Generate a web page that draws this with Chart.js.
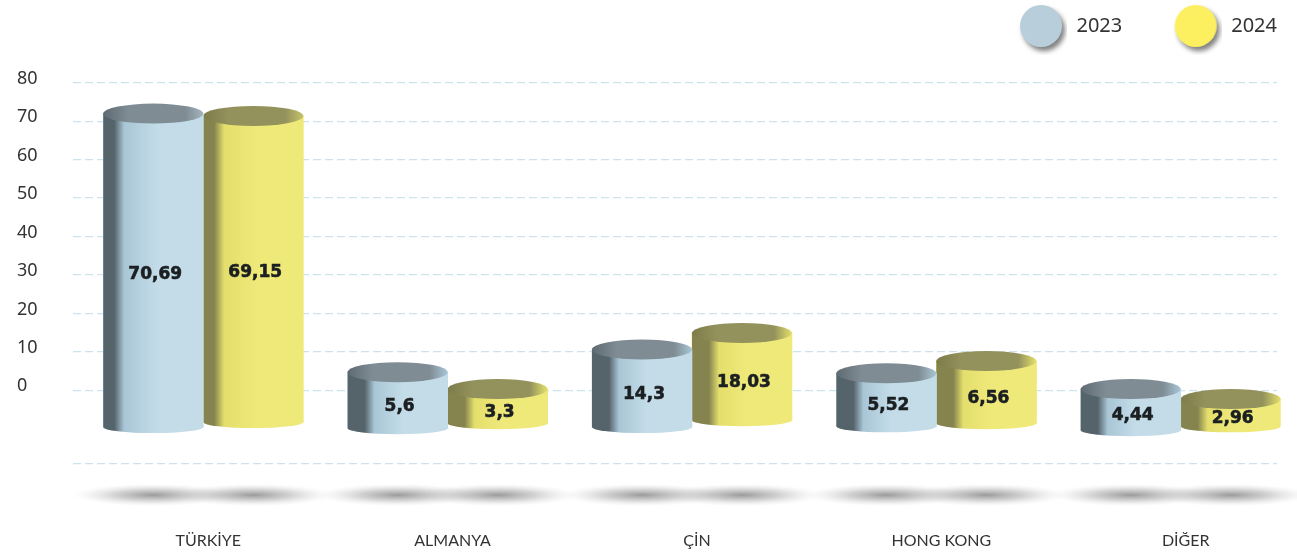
<!DOCTYPE html>
<html>
<head>
<meta charset="utf-8">
<title>chart</title>
<script src="https://cdn.jsdelivr.net/npm/chart.js@4/dist/chart.umd.min.js"></script>
<style>
  html, body { margin: 0; padding: 0; background: #fff; overflow: hidden; }
  #wrap { width: 1297px; height: 552px; }
</style>
</head>
<body>
<div id="wrap"><canvas id="chart"></canvas></div>
<script>
const categories = ['TÜRKİYE', 'ALMANYA', 'ÇİN', 'HONG KONG', 'DİĞER'];
const seriesNames = ['2023', '2024'];

// printed on the cylinders
const printed2023 = ['70,69', '5,6', '14,3', '5,52', '4,44'];
const printed2024 = ['69,15', '3,3', '18,03', '6,56', '2,96'];

// cylinder tops and feet as they read against the axis (the picture does not draw them to the printed value)
const top2023 = [72, 4.7, 10.6, 4.4, 0.3];
const top2024 = [71.4, 0.3, 14.9, 7.6, -2.3];
const foot2023 = [-9.6, -9.9, -9.6, -9.4, -10.4];
const foot2024 = [-8.3, -8.6, -7.8, -8.6, -9.4];

const yTicks = [80, 70, 60, 50, 40, 30, 20, 10, 0];
const yFloor = -19.2;
const yCeil = 89.6; // room under the legend, no gridline up there

const palette = {
  '2023': { side: '#c3dce8', dark: '#55636b', mid: '#a9c6d6', cap1: '#5f6a72', cap2: '#7f8c94', cap3: '#a3b4bd', dot: '#b8cfdb' },
  '2024': { side: '#efe97a', dark: '#85844f', mid: '#e4df6c', cap1: '#7d7c4a', cap2: '#93925c', cap3: '#c5c26a', dot: '#fdf060' }
};

// legend swatch: the dot sits off-centre so the box also sets the spacing between the two items
function legendDot(color) {
  const c = document.createElement('canvas');
  c.width = 84;
  c.height = 58;
  const g = c.getContext('2d');
  g.shadowColor = 'rgba(0,0,0,0.5)';
  g.shadowBlur = 5;
  g.shadowOffsetX = 3;
  g.shadowOffsetY = 4;
  g.fillStyle = color;
  g.beginPath();
  g.arc(58, 29, 21, 0, Math.PI * 2);
  g.fill();
  return c;
}

function bodyGradient(ctx, left, w, p, band) {
  const g = ctx.createLinearGradient(left, 0, left + w, 0);
  g.addColorStop(0, p.dark);
  g.addColorStop(band, p.dark);
  g.addColorStop(band + 0.1, p.mid);
  g.addColorStop(0.55, p.side);
  g.addColorStop(1, p.side);
  return g;
}

const cylinders = {
  id: 'cylinders',
  afterLayout(chart) {
    // legend clips to its own box: let the dots and their shadows fit, and push it to the right edge
    const legend = chart.legend;
    legend.bottom = 60;
    legend.left += 16;
    legend.right += 16;
  },
  beforeDatasetsDraw(chart) {
    // soft shadows on the floor
    const ctx = chart.ctx;
    const y = chart.chartArea.bottom + 31;
    chart.data.datasets.forEach((ds, d) => {
      chart.getDatasetMeta(d).data.forEach(bar => {
        ctx.save();
        ctx.translate(bar.x, y);
        ctx.scale(1, 0.14);
        const g = ctx.createRadialGradient(0, 0, 0, 0, 0, 80);
        g.addColorStop(0, 'rgba(120,120,120,0.75)');
        g.addColorStop(0.45, 'rgba(150,150,150,0.45)');
        g.addColorStop(1, 'rgba(210,210,210,0)');
        ctx.fillStyle = g;
        ctx.beginPath();
        ctx.arc(0, 0, 80, 0, Math.PI * 2);
        ctx.fill();
        ctx.restore();
      });
    });
  },
  afterDatasetDraw(chart, args) {
    const ctx = chart.ctx;
    const ds = chart.data.datasets[args.index];
    const p = palette[ds.label];
    chart.getDatasetMeta(args.index).data.forEach((bar, i) => {
      const rx = bar.width / 2;
      const left = bar.x - rx;
      // floating bars may swap y and base when the top is near zero
      const top = Math.min(bar.y, bar.base);
      const foot = Math.max(bar.y, bar.base);
      const short = foot - top < 150;
      ctx.save();
      ctx.fillStyle = bodyGradient(ctx, left, bar.width, p, short ? 0.17 : 0.11);
      ctx.beginPath();
      ctx.moveTo(left, top);
      ctx.lineTo(left, foot);
      ctx.ellipse(bar.x, foot, rx, 6, 0, Math.PI, 0, true);
      ctx.lineTo(left + bar.width, top);
      ctx.closePath();
      ctx.fill();

      const cap = ctx.createLinearGradient(left, 0, left + bar.width, 0);
      cap.addColorStop(0, p.cap1);
      cap.addColorStop(0.25, p.cap2);
      cap.addColorStop(0.82, p.cap2);
      cap.addColorStop(1, short ? p.mid : p.cap3);
      ctx.fillStyle = cap;
      ctx.beginPath();
      ctx.ellipse(bar.x, top, rx, 10, 0, 0, Math.PI * 2);
      ctx.fill();

      ctx.fillStyle = '#1b1f22';
      ctx.strokeStyle = '#1b1f22';
      ctx.lineWidth = 0.6;
      ctx.font = 'bold 17px "DejaVu Sans"';
      ctx.textAlign = 'center';
      ctx.textBaseline = 'middle';
      const tx = bar.x + 2;
      const ty = (top + foot) / 2 + (short ? 6 : 4);
      ctx.fillText(ds.printed[i], tx, ty);
      ctx.strokeText(ds.printed[i], tx, ty);
      ctx.restore();
    });
  }
};

function points(tops, feet) {
  return tops.map((t, i) => ({ x: i, y: [feet[i], t] }));
}

new Chart(document.getElementById('chart'), {
  type: 'bar',
  data: {
    datasets: [
      { label: seriesNames[0], data: points(top2023, foot2023), printed: printed2023, backgroundColor: palette['2023'].side, barThickness: 100 },
      { label: seriesNames[1], data: points(top2024, foot2024), printed: printed2024, backgroundColor: palette['2024'].side, barThickness: 100 }
    ]
  },
  plugins: [cylinders],
  options: {
    responsive: true,
    maintainAspectRatio: false,
    animation: false,
    layout: { padding: { left: 17, right: 20, top: 0, bottom: 0 } },
    plugins: {
      tooltip: { enabled: false },
      legend: {
        position: 'top',
        align: 'end',
        labels: {
          usePointStyle: true,
          pointStyleWidth: 83,
          padding: 16,
          color: '#333',
          font: { family: '"Noto Sans"', size: 20 },
          generateLabels: chart => chart.data.datasets.map((ds, i) => ({
            text: ds.label,
            datasetIndex: i,
            fontColor: '#333',
            pointStyle: legendDot(palette[ds.label].dot)
          }))
        }
      }
    },
    scales: {
      x: {
        type: 'linear',
        offset: false,
        min: -0.533,
        max: 4.394,
        grid: { display: false },
        border: { display: false },
        afterBuildTicks: s => { s.ticks = categories.map((_, i) => ({ value: i })); },
        afterFit: s => { s.height = 88; },
        ticks: {
          autoSkip: false,
          maxRotation: 0,
          padding: 59,
          labelOffset: 5,
          color: '#333',
          font: { family: 'Lato', size: 16 },
          callback: v => categories[v]
        }
      },
      y: {
        min: yFloor,
        max: yCeil,
        border: { display: false, dash: [8, 4] },
        grid: { color: '#cfe3ec', lineWidth: 1.3, drawTicks: false },
        afterBuildTicks: s => { s.ticks = [yFloor].concat(yTicks.slice().reverse()).map(v => ({ value: v })); },
        afterFit: s => { s.width = 56; },
        ticks: {
          crossAlign: 'far',
          labelOffset: -4,
          color: '#333',
          font: { family: '"Noto Sans"', size: 18 },
          callback: v => (v === yFloor ? '' : String(v))
        }
      }
    }
  }
});
</script>
</body>
</html>
